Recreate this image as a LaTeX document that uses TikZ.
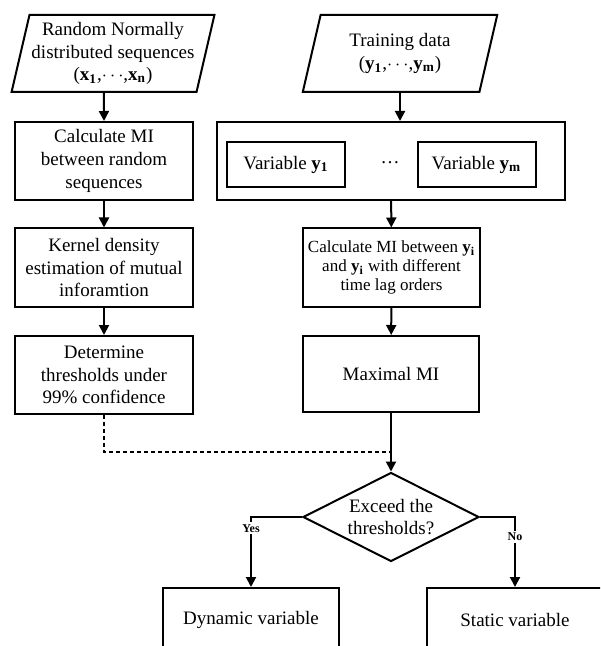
\documentclass[tikz,border=0pt]{standalone}
\usepackage{fontspec}
\setmainfont{Liberation Serif}
\usetikzlibrary{shapes.geometric,arrows.meta,positioning}
\newcommand{\bsub}[2]{\textbf{#1}\textsubscript{\textbf{#2}}}

\begin{document}
\begin{tikzpicture}[
    x=0.5pt, y=-0.5pt,
    box/.style={rectangle, draw, line width=1pt, minimum width=89pt, minimum height=39pt, align=center, inner sep=2pt, font=\fontsize{9.5}{11.4}\selectfont},
    io/.style={trapezium, trapezium left angle=75, trapezium right angle=105, trapezium stretches=true, draw, line width=1pt, minimum height=38.5pt, align=center, inner sep=1pt, font=\fontsize{9.5}{11.4}\selectfont},
    varbox/.style={rectangle, draw, line width=1pt, minimum width=59pt, minimum height=22.5pt, font=\fontsize{9.5}{11.4}\selectfont},
    decision/.style={diamond, draw, line width=1pt, aspect=2, minimum width=88pt, minimum height=44.5pt, inner sep=0pt, align=center, font=\fontsize{9.5}{11.4}\selectfont},
    arrow/.style={-{Triangle[length=5pt,width=5pt]}, line width=1pt},
    choice/.style={fill=white, inner sep=1pt, font=\fontsize{6}{7}\selectfont\bfseries}
]
    \useasboundingbox (0,0) rectangle (600,646);
    \clip (0,0) rectangle (600,646);

    % Threshold branch
    \node[io, minimum width=99pt] (seqs) at (113,53.5) {Random Normally\\distributed sequences\\(\bsub{x}{1},$\cdots$,\bsub{x}{n})};
    \node[box] (calcrand) at (104,161) {Calculate MI\\between random\\sequences};
    \node[box] (kde) at (104,267.5) {Kernel density\\estimation of mutual\\inforamtion};
    \node[box] (thresh) at (104,375) {Determine\\thresholds under\\99\% confidence};

    % Data branch
    \node[io, minimum width=97.5pt] (train) at (400,53.5) {Training data\\(\bsub{y}{1},$\cdots$,\bsub{y}{m})};
    \node[rectangle, draw, line width=1pt, minimum width=174pt, minimum height=39pt] (vars) at (391,161) {};
    \node[varbox] (var1) at (286,164.5) {Variable \bsub{y}{1}};
    \node[varbox] (varm) at (476.5,164.5) {Variable \bsub{y}{m}};
    \node[font=\fontsize{9.5}{11.4}\selectfont] (dots) at (390,163) {\dots};
    \node[box, minimum width=88.5pt, font=\fontsize{8.5}{9.3}\selectfont] (calcmi) at (391.5,267.5) {Calculate MI between \bsub{y}{i}\\and \bsub{y}{i} with different\\time lag orders};
    \node[box, minimum width=88pt, minimum height=38pt] (maxmi) at (391,374) {Maximal MI};

    % Decision
    \node[decision] (decide) at (391,517) {Exceed the\\thresholds?};
    \node[box, minimum width=88pt, minimum height=32pt] (dyn) at (251,620) {Dynamic variable};
    \node[box, minimum width=88pt, minimum height=32pt] (stat) at (515,620) {Static variable};
    \coordinate (join) at (391,452);

    % Arrows
    \draw[arrow] (seqs.bottom side) -- (calcrand.north);
    \draw[arrow] (calcrand) -- (kde);
    \draw[arrow] (kde) -- (thresh);
    \draw[arrow] (train.south) -- (train.south |- vars.north);
    \draw[arrow] (vars) -- (calcmi);
    \draw[arrow] (calcmi) -- (maxmi);
    \draw[arrow] (maxmi) -- (decide);
    \draw[line width=1pt, dash pattern=on 2pt off 1.5pt] (thresh.south) |- (join);
    \draw[arrow] (decide.west) -| node[choice, pos=0.58] {Yes} (dyn.north);
    \draw[arrow] (decide.east) -| node[choice, pos=0.64] {No} (stat.north);
\end{tikzpicture}
\end{document}
